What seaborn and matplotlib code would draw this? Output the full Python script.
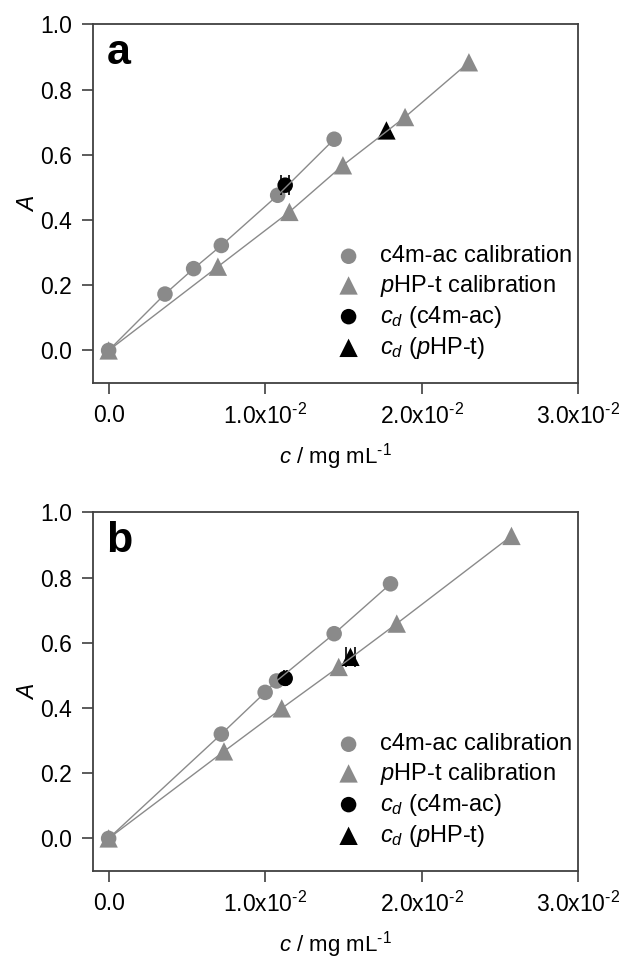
"""Calibration curves: absorbance A vs concentration c, panels a and b."""
import pandas as pd
import matplotlib
matplotlib.use("Agg")
import matplotlib.pyplot as plt
import seaborn as sns

# panel a
a_c4m_c = [0.0, 0.0036, 0.00543, 0.0072, 0.0108, 0.01441]
a_c4m_A = [0.0, 0.173, 0.251, 0.322, 0.476, 0.648]
a_php_c = [0.0, 0.00698, 0.01155, 0.01497, 0.01894, 0.02302]
a_php_A = [0.0, 0.257, 0.425, 0.568, 0.716, 0.884]
# (c, A, x error)
a_cd_c4m = (0.01128, 0.507, 0.000275)
a_cd_php = (0.01775, 0.675, 0.0)

# panel b
b_c4m_c = [0.0, 0.0072, 0.0100, 0.01073, 0.01441, 0.01801]
b_c4m_A = [0.0, 0.320, 0.448, 0.483, 0.628, 0.781]
b_php_c = [0.0, 0.00737, 0.01106, 0.0147, 0.01841, 0.02574]
b_php_A = [0.0, 0.267, 0.399, 0.526, 0.659, 0.928]
b_cd_c4m = (0.01128, 0.491, 0.0001)
b_cd_php = (0.01545, 0.557, 0.00027)

HY = "\u2010"  # short hyphen for the exponents
x_ticks = [0.0, 0.01, 0.02, 0.03]
x_tick_labels = ["0.0", f"1.0x10$^{{{HY}2}}$", f"2.0x10$^{{{HY}2}}$", f"3.0x10$^{{{HY}2}}$"]
y_ticks = [0.0, 0.2, 0.4, 0.6, 0.8, 1.0]

GRAY = "#8a8a8a"
SPINE = "#404040"
FS = 16.5

sns.set_theme(style="ticks")
plt.rcParams["font.family"] = ["Liberation Sans", "DejaVu Sans"]
plt.rcParams["mathtext.fontset"] = "custom"
plt.rcParams["mathtext.rm"] = "Liberation Sans"
plt.rcParams["mathtext.it"] = "Liberation Sans:italic"
plt.rcParams["mathtext.default"] = "regular"
plt.rcParams["text.color"] = "black"
plt.rcParams["axes.labelcolor"] = "black"

fig = plt.figure(figsize=(6.22, 9.6), dpi=100)
ax_a = fig.add_axes([0.1495, 0.601, 0.780, 0.3735])
ax_b = fig.add_axes([0.1495, 0.0927, 0.780, 0.3735])


def draw_panel(ax, letter, c4m_c, c4m_A, php_c, php_A, cd_c4m, cd_php):
    c4m = pd.DataFrame({"c": c4m_c, "A": c4m_A})
    php = pd.DataFrame({"c": php_c, "A": php_A})

    sns.scatterplot(data=c4m, x="c", y="A", marker="o", s=125, color=GRAY,
                    edgecolor="none", label="c4m-ac calibration", ax=ax, zorder=3)
    sns.scatterplot(data=php, x="c", y="A", marker="^", s=175, color=GRAY,
                    edgecolor="none", label=r"$\mathit{p}$HP-t calibration", ax=ax, zorder=3)
    sns.scatterplot(x=[cd_c4m[0]], y=[cd_c4m[1]], marker="o", s=125, color="black",
                    edgecolor="none", label=r"$\mathit{c_d}$ (c4m-ac)", ax=ax, zorder=4)
    sns.scatterplot(x=[cd_php[0]], y=[cd_php[1]], marker="^", s=175, color="black",
                    edgecolor="none", label=r"$\mathit{c_d}$ ($\mathit{p}$HP-t)", ax=ax, zorder=4)

    for x, y, err in (cd_c4m, cd_php):
        if err > 0:
            cap = 7.5 if err > 0.0002 else 5.5
            ax.errorbar(x, y, xerr=err, fmt="none", ecolor="black", elinewidth=1,
                        capsize=cap, capthick=1.2, zorder=5)

    sns.lineplot(data=c4m, x="c", y="A", color=GRAY, lw=1, sort=False,
                 ax=ax, zorder=6, legend=False)
    sns.lineplot(data=php, x="c", y="A", color=GRAY, lw=1, sort=False,
                 ax=ax, zorder=6, legend=False)

    ax.set_xlim(-0.001, 0.03)
    ax.set_ylim(-0.1, 1.0)
    ax.set_xticks(x_ticks)
    ax.set_xticklabels(x_tick_labels)
    ax.set_yticks(y_ticks)
    ax.set_yticklabels([f"{v:.1f}" for v in y_ticks])
    ax.tick_params(direction="out", length=8, width=1.2, color=SPINE,
                   labelsize=FS, labelcolor="black", pad=7)
    for sp in ax.spines.values():
        sp.set_visible(True)
        sp.set_color(SPINE)
        sp.set_linewidth(1.3)

    ax.set_xlabel("$\\mathit{c}$ / mg mL$^{" + HY + "1}$", fontsize=16, labelpad=9)
    ax.set_ylabel(r"$\mathit{A}$", fontsize=FS, labelpad=1)
    ax.text(0.028, 0.975, letter, transform=ax.transAxes, fontsize=31,
            fontweight="bold", va="top", ha="left", color="black")

    ax.legend(loc="lower right", bbox_to_anchor=(1.008, 0.035), frameon=False,
              fontsize=17, handletextpad=0.85, labelspacing=0.22,
              handlelength=1.0, borderaxespad=0.0)


draw_panel(ax_a, "a", a_c4m_c, a_c4m_A, a_php_c, a_php_A, a_cd_c4m, a_cd_php)
draw_panel(ax_b, "b", b_c4m_c, b_c4m_A, b_php_c, b_php_A, b_cd_c4m, b_cd_php)

fig.savefig("out.png", dpi=100)
